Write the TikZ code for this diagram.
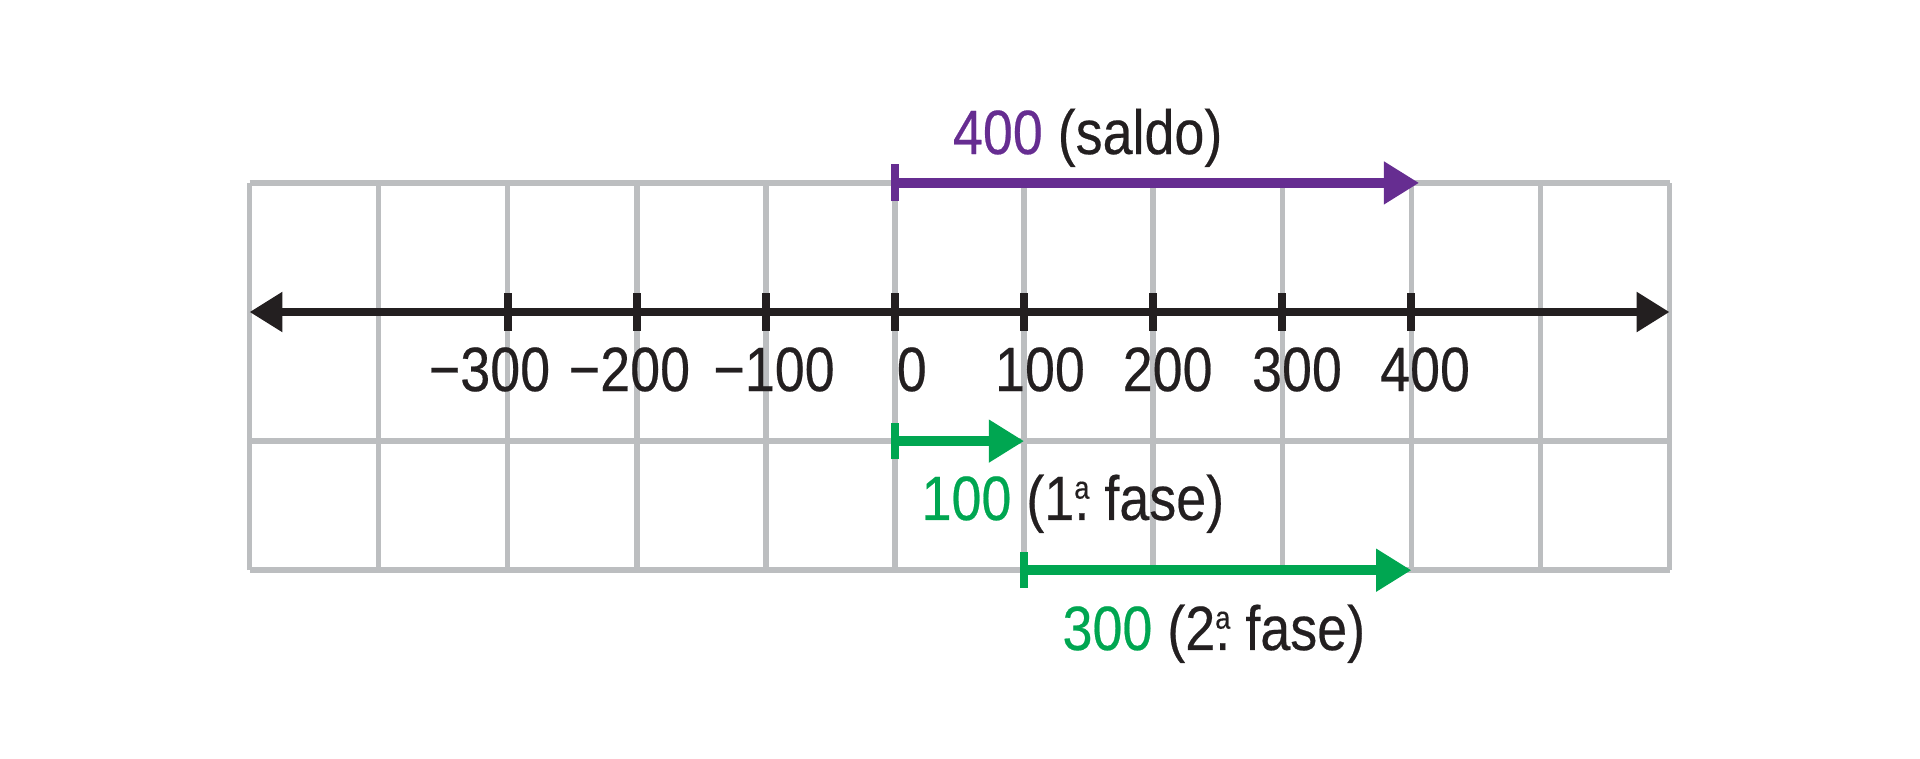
\documentclass[tikz,border=0pt]{standalone}
\usepackage{fontspec}
\setmainfont{Liberation Sans}[FakeStretch=0.86,FakeBold=0.35]
\usetikzlibrary{arrows.meta}
\definecolor{gridgray}{HTML}{BCBEC0}
\definecolor{axisblack}{HTML}{231F20}
\definecolor{vpurple}{HTML}{662D91}
\definecolor{vgreen}{HTML}{00A651}
\newcommand\lblfont{\fontsize{13.8}{16}\selectfont}
\newcommand\ordmark{\ooalign{\hfil.\hfil\cr\hfil\raisebox{4.7pt}{\fontsize{7}{8}\selectfont a}\hfil\cr}}
\begin{document}
\begin{tikzpicture}[
  gridline/.style={draw=gridgray, line width=1.2pt},
  axisline/.style={draw=axisblack, line width=1.85pt,
    {Triangle[length=0.255cm,width=0.295cm]}-{Triangle[length=0.255cm,width=0.295cm]}},
  tickmark/.style={draw=axisblack, line width=1.76pt},
  vecline/.style={line width=2.2pt, -{Triangle[length=0.273cm,width=0.315cm]}},
  startbar/.style={line width=1.7pt},
  ticklabel/.style={anchor=base, inner sep=0pt, text=axisblack, font=\lblfont},
  veclabel/.style={anchor=base west, inner sep=0pt, text=axisblack, font=\lblfont}
]
\useasboundingbox (-6.933,-3.455) rectangle (7.940,2.417);

% grid
\foreach \x in {-5,...,6} {\draw[gridline] (\x,-2) -- (\x,1);}
\foreach \y in {1,-1,-2} {\draw[gridline] (-5,\y) -- (6,\y);}

% axis
\coordinate (axL) at (-5,0);
\coordinate (axR) at (6,0);
\draw[axisline] (axL) -- (axR);
\foreach \x in {-3,...,4} {
  \coordinate (t\x) at (\x,0);
  \draw[tickmark] ([yshift=-0.147cm]t\x) -- ([yshift=0.147cm]t\x);
}

% tick labels
\node[ticklabel] (lm3) at (-3.141,-0.612) {−300};
\node[ticklabel] (lm2) at (-2.057,-0.612) {−200};
\node[ticklabel] (lm1) at (-0.937,-0.612) {−100};
\node[ticklabel] (l0)  at (0.13,-0.612) {0};
\node[ticklabel] (l1)  at (1.123,-0.612) {100};
\node[ticklabel] (l2)  at (2.112,-0.612) {200};
\node[ticklabel] (l3)  at (3.114,-0.612) {300};
\node[ticklabel] (l4)  at (4.106,-0.612) {400};

% purple vector (saldo)
\coordinate (pS) at (0,1);
\coordinate (pE) at (4.06,1);
\draw[vecline, vpurple] (pS) -- (pE);
\draw[startbar, vpurple] ([yshift=-0.143cm]pS) -- ([yshift=0.143cm]pS);
\node[veclabel] (lab400) at (0.442,1.224) {\textcolor{vpurple}{400} (saldo)};

% green vector 1 (1a fase)
\coordinate (g1S) at (0,-1);
\coordinate (g1E) at (1,-1);
\draw[vecline, vgreen] (g1S) -- (g1E);
\draw[startbar, vgreen] ([yshift=-0.139cm]g1S) -- ([yshift=0.139cm]g1S);
\node[veclabel] (lab100) at (0.199,-1.611) {\textcolor{vgreen}{100} (1\ordmark{} fase)};

% green vector 2 (2a fase)
\coordinate (g2S) at (1,-2);
\coordinate (g2E) at (4,-2);
\draw[vecline, vgreen] (g2S) -- (g2E);
\draw[startbar, vgreen] ([yshift=-0.139cm]g2S) -- ([yshift=0.139cm]g2S);
\node[veclabel] (lab300) at (1.291,-2.618) {\textcolor{vgreen}{300} (2\ordmark{} fase)};
\end{tikzpicture}
\end{document}
